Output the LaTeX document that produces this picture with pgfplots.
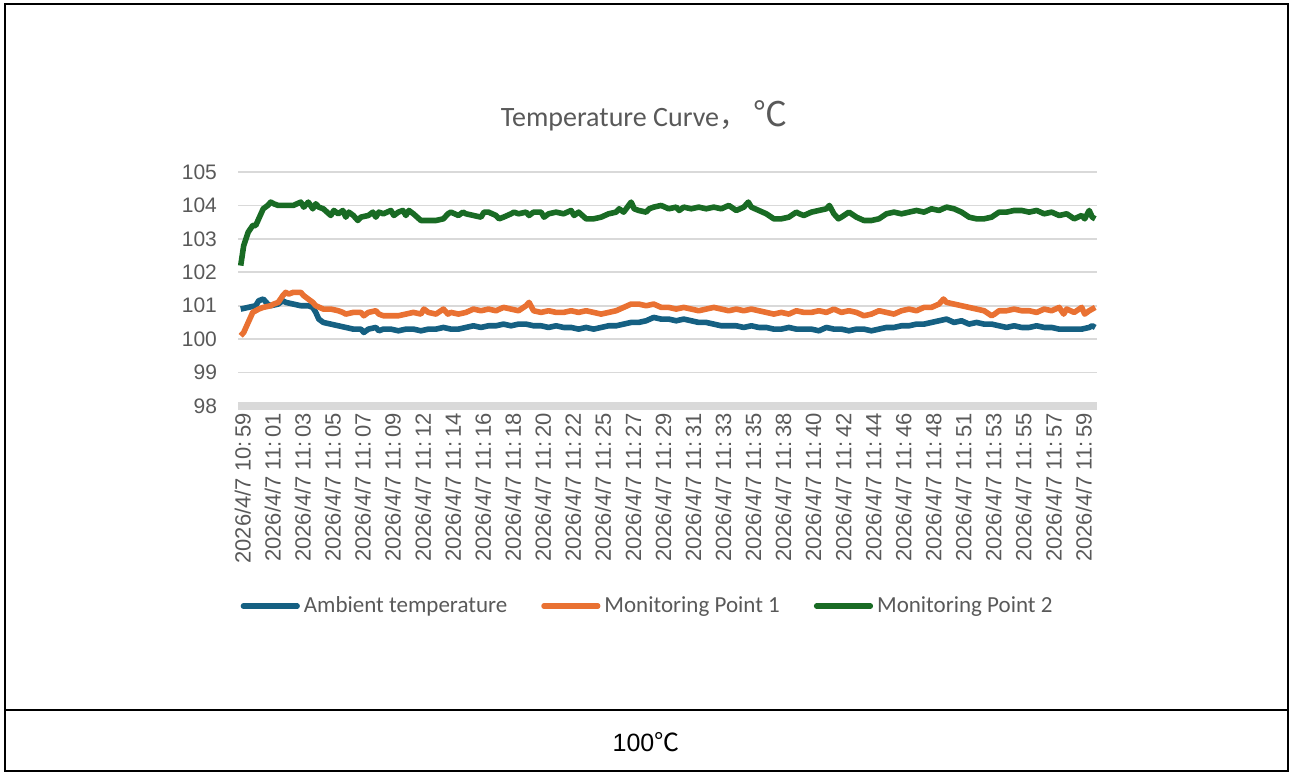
\documentclass[border=0pt]{standalone}
\usepackage{pgfplots}
\pgfplotsset{compat=1.18}
\usepackage{fontspec}
\setmainfont{Liberation Sans}
\newfontfamily\carl{Carlito}
\newfontfamily\cjk{Noto Sans CJK SC}
\definecolor{ambient}{HTML}{156082}
\definecolor{mpone}{HTML}{E97132}
\definecolor{mptwo}{HTML}{196B24}
\definecolor{txtgray}{HTML}{595959}
\definecolor{gridgray}{HTML}{D9D9D9}
\newcommand\ts[1]{2026/4/7 #1}
\begin{document}
\begin{tikzpicture}
% page frame: 1 px of the reference = 0.5pt, origin at bottom left
\path (0pt,0pt) rectangle (645pt,386.5pt);
\draw[line width=0.6pt] (2.5pt,1pt) rectangle (644pt,384.5pt);
\draw[line width=0.8pt] (2.5pt,31.5pt) -- (644pt,31.5pt);
\node[font=\fontsize{12.5}{14}\selectfont] at (323pt,15.5pt) {100{\cjk ℃}};
% title
\node[text=txtgray, font=\carl\fontsize{14}{16}\selectfont] at (322pt,328.5pt)
  {Temperature Curve{\cjk ，\hspace{3pt}{\fontsize{17}{18}\selectfont ℃}}};
\begin{axis}[
  at={(119pt,183.5pt)}, anchor=south west,
  scale only axis, width=429.5pt, height=117pt,
  xmin=-0.09, xmax=28.51, ymin=98, ymax=105,
  ytick={98,...,105},
  xtick={0,...,28},
  xticklabels={\ts{10:\,59},\ts{11:\,01},\ts{11:\,03},\ts{11:\,05},\ts{11:\,07},\ts{11:\,09},\ts{11:\,12},\ts{11:\,14},\ts{11:\,16},\ts{11:\,18},\ts{11:\,20},\ts{11:\,22},\ts{11:\,25},\ts{11:\,27},\ts{11:\,29},\ts{11:\,31},\ts{11:\,33},\ts{11:\,35},\ts{11:\,38},\ts{11:\,40},\ts{11:\,42},\ts{11:\,44},\ts{11:\,46},\ts{11:\,48},\ts{11:\,51},\ts{11:\,53},\ts{11:\,55},\ts{11:\,57},\ts{11:\,59}},
  axis x line*=bottom,
  axis y line*=left,
  y axis line style={draw=none},
  x axis line style={draw=gridgray, line width=4.2pt, -},
  major tick length=0pt,
  ymajorgrids, grid style={gridgray, line width=0.9pt},
  /pgf/number format/assume math mode=true,
  ticklabel style={text=txtgray, font=\fontsize{10.5}{12}\selectfont},
  yticklabel style={xshift=-7pt},
  xticklabel style={rotate=90, anchor=east, yshift=-1pt, font=\fontsize{11}{12}\selectfont},
  clip=false,
  legend columns=3,
  legend style={draw=none, fill=none, at={(0.478,-0.855)}, anchor=center,
    font=\carl\fontsize{11.5}{13}\selectfont, text=txtgray,
    /tikz/every even column/.append style={column sep=15pt}},
  legend image code/.code={\draw[line width=2.6pt, line cap=round] (0pt,0pt) -- (27pt,0pt);},
  every axis plot/.append style={line width=2.8pt, line join=round, mark=none},
]
\addplot[ambient] coordinates {
(0,100.9) (0.25,100.95) (0.5,101.0) (0.6,101.15) (0.75,101.2) (0.9,101.05) (1.0,101.0) (1.25,101.05) (1.4,101.15) (1.5,101.1) (1.75,101.05) (2.0,101.0) (2.25,101.0) (2.4,100.95) (2.5,100.8) (2.6,100.6) (2.75,100.5) (3.0,100.45) (3.25,100.4) (3.5,100.35) (3.75,100.3) (4.0,100.3) (4.1,100.2) (4.25,100.3) (4.5,100.35) (4.6,100.25) (4.75,100.3) (5.0,100.3) (5.25,100.25) (5.5,100.3) (5.75,100.3) (6.0,100.25) (6.25,100.3) (6.5,100.3) (6.75,100.35) (7.0,100.3) (7.25,100.3) (7.5,100.35) (7.75,100.4) (8.0,100.35) (8.25,100.4) (8.5,100.4) (8.75,100.45) (9.0,100.4) (9.25,100.45) (9.5,100.45) (9.75,100.4) (10.0,100.4) (10.25,100.35) (10.5,100.4) (10.75,100.35) (11.0,100.35) (11.25,100.3) (11.5,100.35) (11.75,100.3) (12.0,100.35) (12.25,100.4) (12.5,100.4) (12.75,100.45) (13.0,100.5) (13.25,100.5) (13.5,100.55) (13.75,100.65) (14.0,100.6) (14.25,100.6) (14.5,100.55) (14.75,100.6) (15.0,100.55) (15.25,100.5) (15.5,100.5) (15.75,100.45) (16.0,100.4) (16.25,100.4) (16.5,100.4) (16.75,100.35) (17.0,100.4) (17.25,100.35) (17.5,100.35) (17.75,100.3) (18.0,100.3) (18.25,100.35) (18.5,100.3) (18.75,100.3) (19.0,100.3) (19.25,100.25) (19.5,100.35) (19.75,100.3) (20.0,100.3) (20.25,100.25) (20.5,100.3) (20.75,100.3) (21.0,100.25) (21.25,100.3) (21.5,100.35) (21.75,100.35) (22.0,100.4) (22.25,100.4) (22.5,100.45) (22.75,100.45) (23.0,100.5) (23.25,100.55) (23.5,100.6) (23.75,100.5) (24.0,100.55) (24.25,100.45) (24.5,100.5) (24.75,100.45) (25.0,100.45) (25.25,100.4) (25.5,100.35) (25.75,100.4) (26.0,100.35) (26.25,100.35) (26.5,100.4) (26.75,100.35) (27.0,100.35) (27.25,100.3) (27.5,100.3) (27.75,100.3) (28.0,100.3) (28.25,100.35) (28.35,100.4) (28.45,100.35)
};
\addlegendentry{Ambient temperature}
\addplot[mpone] coordinates {
(0,100.1) (0.1,100.2) (0.25,100.5) (0.4,100.8) (0.5,100.85) (0.6,100.9) (0.75,100.95) (1.0,101.0) (1.1,101.05) (1.25,101.1) (1.4,101.3) (1.5,101.4) (1.6,101.35) (1.75,101.4) (2.0,101.4) (2.1,101.3) (2.25,101.2) (2.4,101.1) (2.5,101.0) (2.75,100.9) (3.0,100.9) (3.25,100.85) (3.4,100.8) (3.5,100.75) (3.75,100.8) (4.0,100.8) (4.1,100.7) (4.25,100.8) (4.5,100.85) (4.6,100.75) (4.75,100.7) (5.0,100.7) (5.25,100.7) (5.5,100.75) (5.75,100.8) (6.0,100.75) (6.1,100.9) (6.25,100.8) (6.5,100.75) (6.75,100.9) (6.9,100.75) (7.0,100.8) (7.25,100.75) (7.5,100.8) (7.75,100.9) (8.0,100.85) (8.25,100.9) (8.5,100.85) (8.75,100.95) (9.0,100.9) (9.25,100.85) (9.5,101.0) (9.6,101.1) (9.75,100.85) (10.0,100.8) (10.25,100.85) (10.5,100.8) (10.75,100.8) (11.0,100.85) (11.25,100.8) (11.5,100.85) (11.75,100.8) (12.0,100.75) (12.25,100.8) (12.5,100.85) (12.75,100.95) (13.0,101.05) (13.25,101.05) (13.5,101.0) (13.75,101.05) (14.0,100.95) (14.25,100.95) (14.5,100.9) (14.75,100.95) (15.0,100.9) (15.25,100.85) (15.5,100.9) (15.75,100.95) (16.0,100.9) (16.25,100.85) (16.5,100.9) (16.75,100.85) (17.0,100.9) (17.25,100.85) (17.5,100.8) (17.75,100.75) (18.0,100.8) (18.25,100.75) (18.5,100.85) (18.75,100.8) (19.0,100.8) (19.25,100.85) (19.5,100.8) (19.75,100.9) (20.0,100.8) (20.25,100.85) (20.5,100.8) (20.75,100.7) (21.0,100.75) (21.25,100.85) (21.5,100.8) (21.75,100.75) (22.0,100.85) (22.25,100.9) (22.5,100.85) (22.75,100.95) (23.0,100.95) (23.25,101.05) (23.4,101.2) (23.5,101.1) (23.75,101.05) (24.0,101.0) (24.25,100.95) (24.5,100.9) (24.75,100.85) (25.0,100.7) (25.1,100.75) (25.25,100.85) (25.5,100.85) (25.75,100.9) (26.0,100.85) (26.25,100.85) (26.5,100.8) (26.75,100.9) (27.0,100.85) (27.25,100.95) (27.4,100.75) (27.5,100.9) (27.75,100.8) (28.0,100.95) (28.1,100.75) (28.25,100.85) (28.45,100.95)
};
\addlegendentry{Monitoring Point 1}
\addplot[mptwo] coordinates {
(0,102.2) (0.1,102.8) (0.25,103.2) (0.4,103.4) (0.5,103.4) (0.6,103.6) (0.75,103.9) (0.9,104.0) (1.0,104.1) (1.1,104.05) (1.25,104.0) (1.5,104.0) (1.75,104.0) (2.0,104.1) (2.1,103.95) (2.25,104.1) (2.4,103.9) (2.5,104.05) (2.6,103.95) (2.75,103.9) (3.0,103.7) (3.1,103.85) (3.25,103.75) (3.4,103.85) (3.5,103.65) (3.6,103.8) (3.75,103.7) (3.9,103.55) (4.0,103.65) (4.25,103.7) (4.4,103.8) (4.5,103.65) (4.6,103.8) (4.75,103.75) (5.0,103.85) (5.1,103.7) (5.25,103.8) (5.4,103.85) (5.5,103.7) (5.6,103.85) (5.75,103.75) (6.0,103.55) (6.25,103.55) (6.5,103.55) (6.75,103.6) (6.9,103.75) (7.0,103.8) (7.25,103.7) (7.4,103.8) (7.5,103.75) (7.75,103.7) (8.0,103.65) (8.1,103.8) (8.25,103.8) (8.5,103.7) (8.6,103.6) (8.75,103.65) (9.0,103.75) (9.1,103.8) (9.25,103.75) (9.5,103.8) (9.6,103.7) (9.75,103.8) (10.0,103.8) (10.1,103.65) (10.25,103.75) (10.5,103.8) (10.75,103.75) (11.0,103.85) (11.1,103.7) (11.25,103.8) (11.5,103.6) (11.75,103.6) (12.0,103.65) (12.25,103.75) (12.5,103.8) (12.6,103.9) (12.75,103.8) (13.0,104.1) (13.1,103.9) (13.25,103.85) (13.5,103.8) (13.6,103.9) (13.75,103.95) (14.0,104.0) (14.25,103.9) (14.5,103.95) (14.6,103.85) (14.75,103.95) (15.0,103.9) (15.25,103.95) (15.5,103.9) (15.75,103.95) (16.0,103.9) (16.25,104.0) (16.5,103.85) (16.75,103.95) (16.9,104.1) (17.0,103.95) (17.25,103.85) (17.5,103.75) (17.75,103.6) (18.0,103.6) (18.25,103.65) (18.5,103.8) (18.6,103.75) (18.75,103.7) (19.0,103.8) (19.25,103.85) (19.5,103.9) (19.6,104.0) (19.75,103.75) (19.9,103.6) (20.0,103.65) (20.25,103.8) (20.5,103.65) (20.75,103.55) (21.0,103.55) (21.25,103.6) (21.5,103.75) (21.75,103.8) (22.0,103.75) (22.25,103.8) (22.5,103.85) (22.75,103.8) (23.0,103.9) (23.25,103.85) (23.5,103.95) (23.75,103.9) (24.0,103.8) (24.25,103.65) (24.5,103.6) (24.75,103.6) (25.0,103.65) (25.25,103.8) (25.5,103.8) (25.75,103.85) (26.0,103.85) (26.25,103.8) (26.5,103.85) (26.75,103.75) (27.0,103.8) (27.25,103.7) (27.5,103.75) (27.75,103.6) (28.0,103.7) (28.1,103.6) (28.25,103.85) (28.35,103.65) (28.45,103.6)
};
\addlegendentry{Monitoring Point 2}
\end{axis}
\end{tikzpicture}
\end{document}
